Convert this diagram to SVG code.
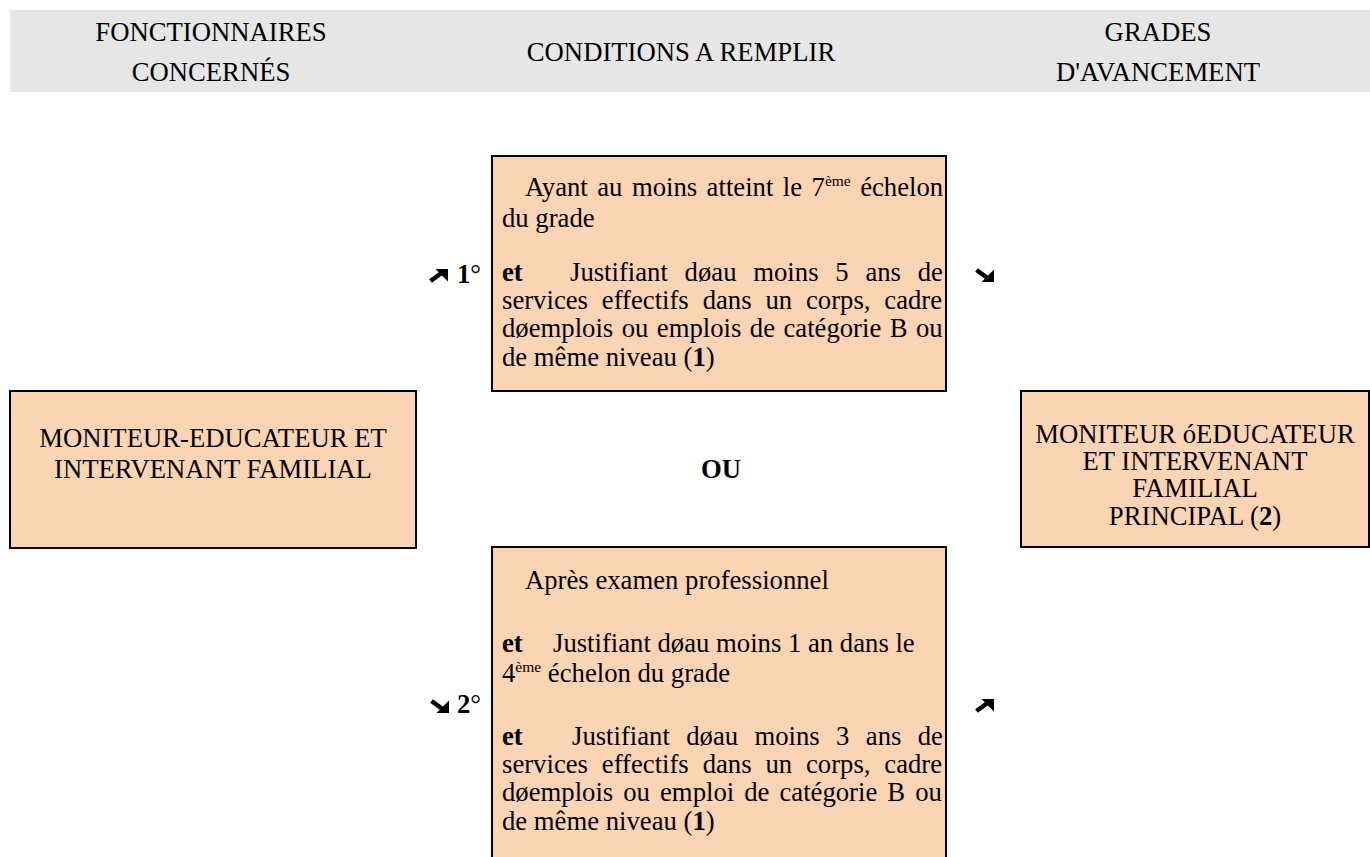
<svg xmlns="http://www.w3.org/2000/svg" width="1370" height="857" viewBox="0 0 1370 857">
<style>
  text { font-family: "Liberation Serif", "Times New Roman", serif; font-size: 26.7px; fill: #000; }
  .c { text-anchor: middle; }
  .b { font-weight: bold; }
  .sup { font-size: 15.5px; }
  .box { fill: #fbd4b4; stroke: #000; stroke-width: 2; }
</style>
<defs>
  <g id="arrNE">
    <path d="M19,0 L19,12.5 L6.5,0 Z" fill="#000"/>
    <path d="M1.5,12 L12.5,4" stroke="#000" stroke-width="4.5" fill="none"/>
  </g>
</defs>
<rect x="10" y="10" width="1360" height="82" fill="#e6e6e6"/>
<g id="header">
  <text class="c" x="211" y="41">FONCTIONNAIRES</text>
  <text class="c" x="211" y="81">CONCERNÉS</text>
  <text class="c" x="681" y="61">CONDITIONS A REMPLIR</text>
  <text class="c" x="1158" y="41">GRADES</text>
  <text class="c" x="1158" y="81">D'AVANCEMENT</text>
</g>
<g id="node-source">
  <rect class="box" x="10" y="391" width="406" height="157"/>
  <text class="c" x="213" y="447">MONITEUR-EDUCATEUR ET</text>
  <text class="c" x="213" y="478">INTERVENANT FAMILIAL</text>
</g>
<g id="node-cond1">
  <rect class="box" x="492" y="156" width="454" height="235"/>
  <text x="525" y="196" word-spacing="2.8">Ayant au moins atteint le 7<tspan class="sup" dy="-10">ème</tspan><tspan dy="10"> échelon</tspan></text>
  <text x="502" y="227">du grade</text>
  <text class="b" x="502" y="281">et</text>
  <text x="570" y="281" word-spacing="10.1">Justifiant døau moins 5 ans de</text>
  <text x="502" y="309" word-spacing="7.2">services effectifs dans un corps, cadre</text>
  <text x="502" y="337" word-spacing="1.8">døemplois ou emplois de catégorie B ou</text>
  <text x="502" y="366">de même niveau (<tspan class="b">1</tspan>)</text>
</g>
<g id="node-or">
  <text class="c b" x="721" y="478">OU</text>
</g>
<g id="node-cond2">
  <rect class="box" x="492" y="547" width="454" height="330"/>
  <text x="525" y="589">Après examen professionnel</text>
  <text class="b" x="502" y="652">et</text>
  <text x="553" y="652">Justifiant døau moins 1 an dans le</text>
  <text x="502" y="682">4<tspan class="sup" dy="-10">ème</tspan><tspan dy="10"> échelon du grade</tspan></text>
  <text class="b" x="502" y="745">et</text>
  <text x="572" y="745" word-spacing="9.7">Justifiant døau moins 3 ans de</text>
  <text x="502" y="773" word-spacing="7.2">services effectifs dans un corps, cadre</text>
  <text x="502" y="801" word-spacing="3.4">døemplois ou emploi de catégorie B ou</text>
  <text x="502" y="830">de même niveau (<tspan class="b">1</tspan>)</text>
</g>
<g id="node-target">
  <rect class="box" x="1021" y="391" width="348" height="156"/>
  <text class="c" x="1195" y="443">MONITEUR óEDUCATEUR</text>
  <text class="c" x="1195" y="470">ET INTERVENANT</text>
  <text class="c" x="1195" y="497">FAMILIAL</text>
  <text class="c" x="1195" y="525">PRINCIPAL (<tspan class="b">2</tspan>)</text>
</g>
<g id="connectors">
  <use href="#arrNE" transform="translate(429,269)"/>
  <text x="457" y="283"><tspan class="b">1</tspan>°</text>
  <use href="#arrNE" transform="translate(975,282) scale(1,-1)"/>
  <use href="#arrNE" transform="translate(430,713) scale(1,-1)"/>
  <text x="457" y="713"><tspan class="b">2</tspan>°</text>
  <use href="#arrNE" transform="translate(975,699)"/>
</g>
</svg>
